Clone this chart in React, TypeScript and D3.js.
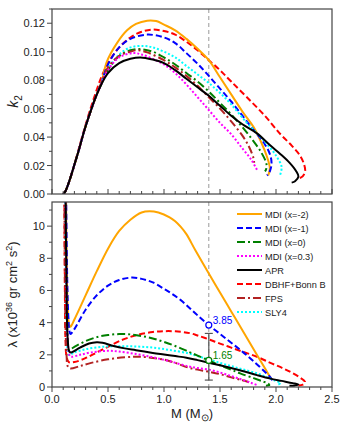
import React from 'react'
import * as d3 from 'd3'

type Pt = [number, number]

// k2 vs M (top panel)
const k2Mdi2: Pt[] = [[0.10, 0], [0.12, 0.002], [0.15, 0.008], [0.19, 0.018], [0.24, 0.031], [0.29, 0.045], [0.34, 0.057], [0.39, 0.068], [0.44, 0.078], [0.49, 0.093], [0.58, 0.106], [0.67, 0.115], [0.75, 0.1195], [0.85, 0.1218], [0.93, 0.1215], [1.0, 0.119], [1.1, 0.115], [1.2, 0.109], [1.3, 0.102], [1.4, 0.094], [1.5, 0.082], [1.6, 0.070], [1.7, 0.058], [1.8, 0.047], [1.87, 0.036], [1.92, 0.026], [1.945, 0.018], [1.93, 0.013]]
const k2Mdi1: Pt[] = [[0.10, 0], [0.12, 0.002], [0.15, 0.008], [0.19, 0.018], [0.24, 0.031], [0.29, 0.045], [0.34, 0.057], [0.39, 0.068], [0.44, 0.078], [0.5, 0.091], [0.6, 0.103], [0.7, 0.109], [0.85, 0.112], [1.0, 0.110], [1.1, 0.106], [1.2, 0.099], [1.3, 0.0915], [1.4, 0.083], [1.5, 0.074], [1.6, 0.065], [1.7, 0.055], [1.8, 0.045], [1.9, 0.035], [1.95, 0.027], [1.96, 0.021], [1.945, 0.016], [1.92, 0.013]]
const k2Mdi0: Pt[] = [[0.10, 0], [0.12, 0.002], [0.15, 0.008], [0.19, 0.018], [0.24, 0.031], [0.29, 0.045], [0.34, 0.057], [0.39, 0.068], [0.44, 0.077], [0.5, 0.087], [0.6, 0.097], [0.7, 0.101], [0.79, 0.1018], [0.9, 0.100], [1.0, 0.096], [1.1, 0.091], [1.2, 0.085], [1.3, 0.079], [1.4, 0.072], [1.5, 0.064], [1.6, 0.056], [1.7, 0.047], [1.8, 0.037], [1.87, 0.029], [1.915, 0.021], [1.91, 0.017], [1.9, 0.016]]
const k2Mdi03: Pt[] = [[0.10, 0], [0.12, 0.002], [0.15, 0.008], [0.19, 0.018], [0.24, 0.031], [0.29, 0.045], [0.34, 0.057], [0.39, 0.068], [0.44, 0.077], [0.5, 0.087], [0.6, 0.096], [0.73, 0.099], [0.8, 0.098], [0.9, 0.095], [1.0, 0.091], [1.1, 0.085], [1.2, 0.077], [1.3, 0.068], [1.4, 0.059], [1.5, 0.050], [1.6, 0.042], [1.7, 0.032], [1.78, 0.024], [1.83, 0.017]]
const k2Apr: Pt[] = [[0.10, 0], [0.12, 0.002], [0.15, 0.008], [0.19, 0.018], [0.24, 0.031], [0.29, 0.045], [0.34, 0.057], [0.39, 0.068], [0.44, 0.077], [0.5, 0.085], [0.6, 0.092], [0.7, 0.095], [0.79, 0.096], [0.9, 0.0945], [1.0, 0.092], [1.1, 0.087], [1.2, 0.081], [1.3, 0.075], [1.4, 0.069], [1.5, 0.062], [1.6, 0.055], [1.7, 0.049], [1.83, 0.0426], [1.95, 0.034], [2.04, 0.028], [2.12, 0.022], [2.18, 0.016], [2.2, 0.0122], [2.17, 0.009], [2.14, 0.008]]
const k2Dbhf: Pt[] = [[0.10, 0], [0.12, 0.002], [0.15, 0.008], [0.19, 0.018], [0.24, 0.032], [0.29, 0.046], [0.34, 0.059], [0.39, 0.071], [0.44, 0.082], [0.5, 0.092], [0.6, 0.103], [0.7, 0.110], [0.8, 0.114], [0.9, 0.1155], [1.0, 0.1145], [1.1, 0.112], [1.2, 0.107], [1.3, 0.101], [1.4, 0.094], [1.5, 0.087], [1.6, 0.079], [1.74, 0.068], [1.9, 0.055], [2.04, 0.042], [2.14, 0.034], [2.21, 0.0275], [2.25, 0.021], [2.26, 0.016], [2.24, 0.0125], [2.21, 0.011]]
const k2Fps: Pt[] = [[0.10, 0], [0.12, 0.002], [0.15, 0.008], [0.19, 0.018], [0.24, 0.031], [0.29, 0.045], [0.34, 0.057], [0.39, 0.068], [0.44, 0.078], [0.5, 0.089], [0.6, 0.097], [0.7, 0.100], [0.76, 0.101], [0.85, 0.0995], [1.0, 0.094], [1.1, 0.089], [1.2, 0.083], [1.3, 0.076], [1.4, 0.068], [1.5, 0.060], [1.6, 0.051], [1.7, 0.041], [1.76, 0.033], [1.8, 0.025], [1.805, 0.022]]
const k2Sly4: Pt[] = [[0.10, 0], [0.12, 0.002], [0.15, 0.008], [0.19, 0.018], [0.24, 0.031], [0.29, 0.045], [0.34, 0.057], [0.39, 0.068], [0.44, 0.078], [0.5, 0.088], [0.6, 0.098], [0.7, 0.103], [0.82, 0.104], [0.9, 0.103], [1.0, 0.100], [1.1, 0.096], [1.2, 0.090], [1.3, 0.084], [1.4, 0.078], [1.5, 0.071], [1.6, 0.063], [1.74, 0.050], [1.85, 0.041], [1.92, 0.035], [2.0, 0.027], [2.05, 0.019], [2.035, 0.013]]

// lambda vs M (bottom panel)
const lamMdi2: Pt[] = [[0.125, 13], [0.13, 8], [0.14, 5], [0.15, 4.0], [0.164, 3.74], [0.2, 4.2], [0.3, 5.7], [0.4, 7.2], [0.5, 8.6], [0.6, 9.7], [0.7, 10.4], [0.8, 10.85], [0.87, 10.93], [0.95, 10.85], [1.05, 10.55], [1.1, 10.3], [1.15, 9.95], [1.2, 9.5], [1.28, 8.5], [1.4, 7.05], [1.5, 5.87], [1.6, 4.7], [1.7, 3.53], [1.8, 2.35], [1.9, 1.18], [1.946, 0.64], [1.96, 0.5]]
const lamMdi1: Pt[] = [[0.125, 13], [0.135, 7], [0.145, 4.5], [0.155, 3.5], [0.165, 3.3], [0.2, 3.6], [0.3, 4.8], [0.4, 5.7], [0.5, 6.3], [0.6, 6.65], [0.71, 6.8], [0.8, 6.72], [0.9, 6.5], [1.0, 6.1], [1.07, 5.8], [1.15, 5.4], [1.23, 4.9], [1.3, 4.45], [1.4, 3.85], [1.5, 3.3], [1.6, 2.75], [1.7, 2.2], [1.8, 1.6], [1.9, 0.95], [1.95, 0.6], [1.97, 0.35]]
const lamMdi0: Pt[] = [[0.12, 13], [0.13, 6], [0.14, 3.0], [0.15, 2.3], [0.2, 2.5], [0.3, 2.85], [0.4, 3.1], [0.5, 3.23], [0.6, 3.29], [0.7, 3.27], [0.8, 3.17], [0.9, 3.02], [1.0, 2.8], [1.1, 2.55], [1.22, 2.19], [1.3, 1.95], [1.4, 1.65], [1.5, 1.35], [1.6, 1.08], [1.68, 0.85], [1.8, 0.55], [1.88, 0.35], [1.93, 0.22], [1.94, 0.12], [1.91, 0.08]]
const lamMdi03: Pt[] = [[0.12, 13], [0.13, 6], [0.14, 3], [0.155, 2.0], [0.17, 1.88], [0.25, 2.0], [0.35, 2.15], [0.5, 2.25], [0.6, 2.2], [0.75, 2.05], [0.9, 1.85], [1.05, 1.6], [1.22, 1.28], [1.3, 1.18], [1.4, 1.08], [1.5, 0.9], [1.6, 0.68], [1.7, 0.45], [1.78, 0.25], [1.83, 0.12]]
const lamApr: Pt[] = [[0.12, 13], [0.13, 6], [0.14, 3.0], [0.155, 2.2], [0.17, 2.15], [0.25, 2.45], [0.33, 2.7], [0.4, 2.78], [0.45, 2.75], [0.55, 2.55], [0.65, 2.4], [0.75, 2.29], [0.9, 2.12], [1.0, 2.02], [1.1, 1.92], [1.2, 1.82], [1.3, 1.67], [1.4, 1.51], [1.5, 1.35], [1.6, 1.18], [1.7, 1.0], [1.83, 0.74], [1.95, 0.52], [2.05, 0.38], [2.15, 0.24], [2.2, 0.15], [2.17, 0.1], [2.12, 0.08]]
const lamDbhf: Pt[] = [[0.11, 13], [0.115, 6], [0.12, 3], [0.13, 1.9], [0.15, 1.55], [0.2, 1.55], [0.3, 1.8], [0.4, 2.15], [0.5, 2.5], [0.6, 2.85], [0.75, 3.22], [0.9, 3.42], [1.0, 3.47], [1.1, 3.46], [1.23, 3.35], [1.3, 3.2], [1.4, 2.96], [1.5, 2.7], [1.6, 2.45], [1.7, 2.2], [1.83, 1.88], [1.95, 1.5], [2.05, 1.2], [2.125, 0.95], [2.2, 0.65], [2.25, 0.4], [2.26, 0.3], [2.24, 0.15], [2.2, 0.1]]
const lamFps: Pt[] = [[0.11, 13], [0.12, 4], [0.13, 2.0], [0.14, 1.3], [0.16, 1.15], [0.25, 1.3], [0.35, 1.5], [0.5, 1.72], [0.65, 1.85], [0.75, 1.88], [0.85, 1.85], [1.0, 1.7], [1.1, 1.5], [1.22, 1.2], [1.3, 1.08], [1.4, 0.95], [1.5, 0.8], [1.6, 0.6], [1.7, 0.42], [1.76, 0.3]]
const lamSly4: Pt[] = [[0.115, 13], [0.125, 6], [0.135, 3], [0.15, 2.0], [0.2, 2.15], [0.3, 2.35], [0.45, 2.5], [0.6, 2.54], [0.75, 2.52], [0.9, 2.45], [1.05, 2.3], [1.22, 2.09], [1.3, 1.92], [1.4, 1.72], [1.5, 1.5], [1.6, 1.3], [1.7, 1.1], [1.83, 0.85], [1.92, 0.6], [2.0, 0.38], [2.04, 0.25], [2.02, 0.15]]

const seriesNames = ['MDI (x=-2)', 'MDI (x=-1)', 'MDI (x=0)', 'MDI (x=0.3)', 'APR', 'DBHF+Bonn B', 'FPS', 'SLY4']
const seriesColors = ['#FFA500', '#0000FF', '#007F00', '#FF00FF', '#000000', '#FF0000', '#B22222', '#00FFFF']
const seriesDash = ['', '6,3', '8,3,2,3', '2,2', '', '6,3', '8,3,2,3', '2,2']
const k2Data = [k2Mdi2, k2Mdi1, k2Mdi0, k2Mdi03, k2Apr, k2Dbhf, k2Fps, k2Sly4]
const lamData = [lamMdi2, lamMdi1, lamMdi0, lamMdi03, lamApr, lamDbhf, lamFps, lamSly4]
// draw order (back to front)
const drawOrder = [5, 0, 1, 7, 2, 6, 3, 4]

const canonicalMass = 1.4
const markers = [{ v: 3.85, label: '3.85', color: '#0000FF' }, { v: 1.65, label: '1.65', color: '#007F00' }]
const errorBar = [0.43, 3.33]

const xTicks = [0, 0.5, 1.0, 1.5, 2.0, 2.5]
const k2Ticks = [0, 0.02, 0.04, 0.06, 0.08, 0.1, 0.12]
const lamTicks = [0, 2, 4, 6, 8, 10]

const W = 345
const H = 427
const left = 52
const right = 332
const top1 = 9
const bot1 = 194
const top2 = 202
const bot2 = 387
const font = 'Liberation Sans, Arial, sans-serif'
const axisColor = '#444'

export default function App() {
  const x = d3.scaleLinear().domain([0, 2.5]).range([left, right])
  const y1 = d3.scaleLinear().domain([0, 0.13]).range([bot1, top1])
  const y2 = d3.scaleLinear().domain([0, 11.5]).range([bot2, top2])
  const line1 = d3.line<Pt>().x(d => x(d[0])).y(d => y1(d[1])).curve(d3.curveCatmullRom.alpha(0.5))
  const line2 = d3.line<Pt>().x(d => x(d[0])).y(d => y2(d[1])).curve(d3.curveCatmullRom.alpha(0.5))
  const minorX = d3.range(0, 2.501, 0.1)
  const minorK2 = d3.range(0, 0.1301, 0.01)
  const minorLam = d3.range(0, 11.01, 1)
  const xc = x(canonicalMass)

  return (
    <svg width={W} height={H} style={{ position: 'absolute', left: 0, top: 0 }} fontFamily={font}>
      <rect width={W} height={H} fill="#fff" />
      <defs>
        <clipPath id="c1"><rect x={left} y={top1} width={right - left} height={bot1 - top1} /></clipPath>
        <clipPath id="c2"><rect x={left} y={top2} width={right - left} height={bot2 - top2} /></clipPath>
      </defs>

      {/* reference line at 1.4 Msun */}
      <line x1={xc} x2={xc} y1={top1} y2={bot1} stroke="#999" strokeWidth={1} strokeDasharray="4,3" />
      <line x1={xc} x2={xc} y1={top2} y2={bot2} stroke="#999" strokeWidth={1} strokeDasharray="4,3" />

      {/* top panel curves */}
      <g clipPath="url(#c1)" fill="none">
        {drawOrder.map(i => (
          <path key={i} d={line1(k2Data[i]) || ''} stroke={seriesColors[i]} strokeWidth={2} strokeDasharray={seriesDash[i]} />
        ))}
      </g>

      {/* bottom panel curves */}
      <g clipPath="url(#c2)" fill="none">
        {drawOrder.map(i => (
          <path key={i} d={line2(lamData[i]) || ''} stroke={seriesColors[i]} strokeWidth={2} strokeDasharray={seriesDash[i]} />
        ))}
      </g>

      {/* error bar */}
      <g stroke="#555" strokeWidth={1.2}>
        <line x1={xc} x2={xc} y1={y2(errorBar[0])} y2={y2(errorBar[1])} />
        <line x1={xc - 4} x2={xc + 4} y1={y2(errorBar[0])} y2={y2(errorBar[0])} />
        <line x1={xc - 4} x2={xc + 4} y1={y2(errorBar[1])} y2={y2(errorBar[1])} />
      </g>
      {markers.map(m => (
        <g key={m.label}>
          <circle cx={xc} cy={y2(m.v)} r={3} fill="#fff" stroke={m.color} strokeWidth={1.2} />
          <text x={xc + 4} y={y2(m.v) - 1} fontSize={10} fill={m.color}>{m.label}</text>
        </g>
      ))}

      {/* frames */}
      <rect x={left} y={top1} width={right - left} height={bot1 - top1} fill="none" stroke={axisColor} strokeWidth={1.2} />
      <rect x={left} y={top2} width={right - left} height={bot2 - top2} fill="none" stroke={axisColor} strokeWidth={1.2} />

      {/* ticks */}
      <g stroke={axisColor} strokeWidth={1}>
        {minorX.map((v, i) => (
          <line key={'t1x' + i} x1={x(v)} x2={x(v)} y1={bot1} y2={bot1 - (i % 5 === 0 ? 5 : 3)} />
        ))}
        {minorK2.map((v, i) => (
          <line key={'t1y' + i} x1={left} x2={left - (i % 2 === 0 ? 5 : 3)} y1={y1(v)} y2={y1(v)} />
        ))}
        {minorX.map((v, i) => (
          <line key={'t2x' + i} x1={x(v)} x2={x(v)} y1={bot2} y2={bot2 + (i % 5 === 0 ? 5 : 3)} />
        ))}
        {minorLam.map((v, i) => (
          <line key={'t2y' + i} x1={left} x2={left - (i % 2 === 0 ? 5 : 3)} y1={y2(v)} y2={y2(v)} />
        ))}
      </g>
      <g fontSize={11} fill="#222" textAnchor="end">
        {k2Ticks.map(v => (
          <text key={'k' + v} x={left - 7} y={y1(v) + 4}>{d3.format('.2f')(v)}</text>
        ))}
        {lamTicks.map(v => (
          <text key={'l' + v} x={left - 7} y={y2(v) + 4}>{v}</text>
        ))}
      </g>
      <g fontSize={11} fill="#222" textAnchor="middle">
        {xTicks.map(v => (
          <text key={'x' + v} x={x(v)} y={bot2 + 16}>{d3.format('.1f')(v)}</text>
        ))}
      </g>

      {/* axis labels */}
      <text transform={`translate(18,${(top1 + bot1) / 2}) rotate(-90)`} textAnchor="middle" fontSize={14} fill="#222">
        <tspan fontStyle="italic">k</tspan>
        <tspan fontSize={10} dy={4}>2</tspan>
      </text>
      <text transform={`translate(17,${(top2 + bot2) / 2}) rotate(-90)`} textAnchor="middle" fontSize={13} fill="#222">
        <tspan>λ (x10</tspan>
        <tspan fontSize={9} dy={-5}>36</tspan>
        <tspan dy={5}> gr cm</tspan>
        <tspan fontSize={9} dy={-5}>2</tspan>
        <tspan dy={5}> s</tspan>
        <tspan fontSize={9} dy={-5}>2</tspan>
        <tspan dy={5}>)</tspan>
      </text>
      <text x={(left + right) / 2} y={418} textAnchor="middle" fontSize={13} fill="#222">
        M (M<tspan fontSize={10} dy={3}>⊙</tspan><tspan dy={-3}>)</tspan>
      </text>

      {/* legend */}
      <g>
        {seriesNames.map((name, i) => (
          <g key={name} transform={`translate(0,${214 + i * 14})`}>
            <line x1={237} x2={262} y1={0} y2={0} stroke={seriesColors[i]} strokeWidth={2} strokeDasharray={seriesDash[i]} />
            <text x={265} y={3.5} fontSize={9.2} fill="#222">{name}</text>
          </g>
        ))}
      </g>
    </svg>
  )
}
